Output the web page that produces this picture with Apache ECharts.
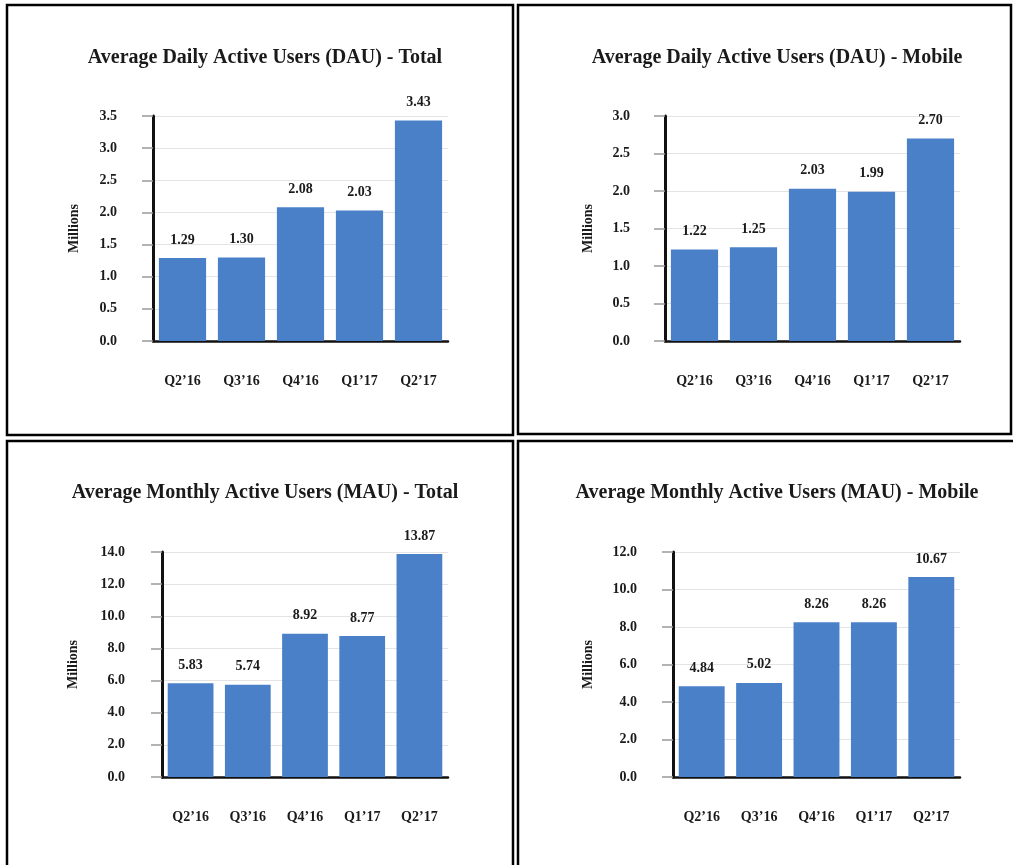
<!DOCTYPE html>
<html>
<head>
<meta charset="utf-8">
<script src="https://cdn.jsdelivr.net/npm/echarts@6/dist/echarts.min.js"></script>
<style>
html,body{margin:0;padding:0;background:#fff;}
#c{width:1013px;height:865px;}
</style>
</head>
<body>
<div id="c"></div>
<script>
const categories = ["Q2\u201916", "Q3\u201916", "Q4\u201916", "Q1\u201917", "Q2\u201917"];
const dauTotal = [1.29, 1.30, 2.08, 2.03, 3.43];
const dauMobile = [1.22, 1.25, 2.03, 1.99, 2.70];
const mauTotal = [5.83, 5.74, 8.92, 8.77, 13.87];
const mauMobile = [4.84, 5.02, 8.26, 8.26, 10.67];
const titles = [
  "Average Daily Active Users (DAU) - Total",
  "Average Daily Active Users (DAU) - Mobile",
  "Average Monthly Active Users (MAU) - Total",
  "Average Monthly Active Users (MAU) - Mobile"
];
const yMax = [3.5, 3.0, 14, 12];
const yInterval = [0.5, 0.5, 2, 2];
const yAxisName = "Millions";

const FONT = '"Liberation Serif", "Times New Roman", serif';
const BAR = '#4a80c8';
const seriesData = [dauTotal, dauMobile, mauTotal, mauMobile];

const grids = [
  {left: 153, top: 116, width: 295, height: 225},
  {left: 665, top: 116, width: 295, height: 225},
  {left: 162, top: 552, width: 286, height: 225},
  {left: 673, top: 552, width: 287, height: 225}
];
const titlePos = [
  {x: 260, y: 43}, {x: 772, y: 43}, {x: 260, y: 478}, {x: 772, y: 478}
];
const nameGaps = [72, 70, 82, 78];
const labelMargins = [36, 35, 37, 36];

const option = {
  animation: false,
  backgroundColor: '#fff',
  title: titles.map((t, i) => ({
    text: t,
    left: titlePos[i].x,
    top: titlePos[i].y,
    textAlign: 'center',
    textStyle: {fontFamily: FONT, fontWeight: 'bold', fontSize: 20, color: '#1a1a1a'}
  })),
  grid: grids,
  xAxis: grids.map((g, i) => ({
    type: 'category',
    gridIndex: i,
    data: categories,
    axisLine: {lineStyle: {color: '#111', width: 2.5}},
    axisTick: {alignWithLabel: true, length: 12, lineStyle: {color: '#333', width: 1.5}},
    axisLabel: {margin: 33, fontFamily: FONT, fontWeight: 'bold', fontSize: 14, color: '#1a1a1a'}
  })),
  yAxis: grids.map((g, i) => ({
    type: 'value',
    gridIndex: i,
    min: 0,
    max: yMax[i],
    interval: yInterval[i],
    name: yAxisName,
    nameLocation: 'middle',
    nameGap: nameGaps[i],
    nameRotate: 90,
    nameTextStyle: {fontFamily: FONT, fontWeight: 'bold', fontSize: 14, color: '#1a1a1a'},
    axisLine: {show: true, lineStyle: {color: '#111', width: 3}},
    axisTick: {show: true, length: 11, lineStyle: {color: '#999', width: 1.5}},
    splitLine: {lineStyle: {color: '#e4e4e4', width: 1}},
    axisLabel: {
      margin: labelMargins[i],
      fontFamily: FONT, fontWeight: 'bold', fontSize: 14, color: '#1a1a1a',
      formatter: v => v.toFixed(1)
    }
  })),
  series: seriesData.map((d, i) => ({
    type: 'bar',
    xAxisIndex: i,
    yAxisIndex: i,
    data: d,
    barCategoryGap: '20%',
    itemStyle: {color: BAR},
    label: {
      show: true,
      position: 'top',
      distance: 11,
      fontFamily: FONT, fontWeight: 'bold', fontSize: 14, color: '#1a1a1a',
      formatter: p => p.value.toFixed(2)
    }
  })),
  graphic: [
    {type: 'rect', shape: {x: 7, y: 5, width: 506, height: 430}, style: {fill: 'none', stroke: '#000', lineWidth: 2.5}},
    {type: 'rect', shape: {x: 518, y: 5, width: 493, height: 429}, style: {fill: 'none', stroke: '#000', lineWidth: 2.5}},
    {type: 'rect', shape: {x: 7, y: 441, width: 506, height: 440}, style: {fill: 'none', stroke: '#000', lineWidth: 2.5}},
    {type: 'rect', shape: {x: 518, y: 441, width: 500, height: 440}, style: {fill: 'none', stroke: '#000', lineWidth: 2.5}}
  ]
};

const chart = echarts.init(document.getElementById('c'));
chart.setOption(option);
</script>
</body>
</html>
